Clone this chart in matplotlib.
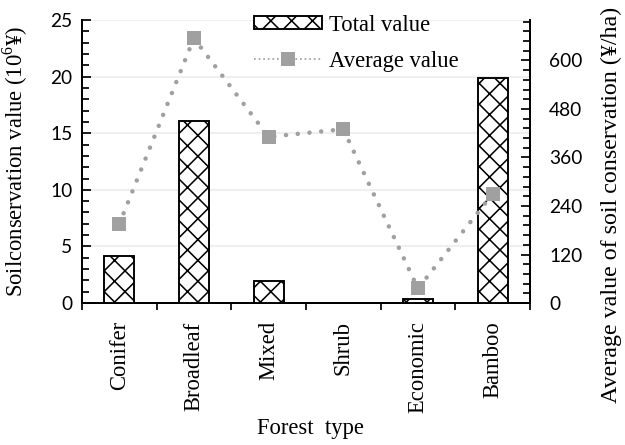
import numpy as np
import matplotlib
matplotlib.use('Agg')
from matplotlib import pyplot as plt
from matplotlib.patches import Patch
from matplotlib.lines import Line2D
from matplotlib.ticker import MultipleLocator, FixedLocator

forest_types = ['Conifer', 'Broadleaf', 'Mixed', 'Shrub', 'Economic', 'Bamboo']
total_value = [4.15, 16.08, 1.94, 0.0, 0.33, 19.85]      # 10^6 yuan
average_value = [195, 655, 411, 430, 36, 270]            # yuan/ha

SERIF = 'Liberation Serif'
SANS = 'Lato'
GREY = '#a0a0a0'

plt.rcParams['mathtext.fontset'] = 'custom'
plt.rcParams['mathtext.rm'] = SERIF
plt.rcParams['hatch.linewidth'] = 0.9

fig = plt.figure(figsize=(5, 3.56), dpi=125)
ax = fig.add_axes([0.131, 0.319, 0.717, 0.636])
x = np.arange(len(forest_types))

ax.bar(x, total_value, width=0.4, color='white', edgecolor='black',
       linewidth=1.1, hatch='xx', zorder=3)
ax.set_xlim(-0.5, len(forest_types) - 0.5)
ax.set_ylim(0, 25)
ax.yaxis.set_major_locator(MultipleLocator(5))
ax.yaxis.set_minor_locator(MultipleLocator(1))
ax.grid(axis='y', color='#efefef', linewidth=1.2, zorder=0)
ax.tick_params(axis='y', which='both', direction='in', width=1.0,
               labelsize=11, pad=5.5)
ax.tick_params(axis='y', which='major', length=5)
ax.tick_params(axis='y', which='minor', length=4)
for lab in ax.get_yticklabels():
    lab.set_fontfamily(SANS)

# category labels at centres, tick marks at boundaries
ax.set_xticks(x)
ax.set_xticklabels(forest_types, rotation=90, fontfamily=SERIF, fontsize=13)
ax.xaxis.set_minor_locator(FixedLocator(np.arange(len(forest_types) + 1) - 0.5))
ax.tick_params(axis='x', which='major', length=0, pad=10.5)
ax.tick_params(axis='x', which='minor', direction='out', length=4, width=1.0)

for s in ['left', 'bottom']:
    ax.spines[s].set_linewidth(1.15)
ax.spines['top'].set_visible(False)
ax.spines['right'].set_visible(False)

ax.set_ylabel('Soilconservation value (10$^{6}$¥)', fontfamily=SERIF, fontsize=13)
ax.yaxis.set_label_coords(-0.116, 0.5)
ax.set_xlabel('Forest  type', fontfamily=SERIF, fontsize=13)
ax.xaxis.set_label_coords(0.509, -0.405)

ax2 = ax.twinx()
ax2.plot(x, average_value, color=GREY, linewidth=2.6, linestyle=(0, (0.01, 2.6)),
         dash_capstyle='round', marker='s', markersize=7.5, markeredgewidth=0,
         zorder=4)
ax2.set_ylim(0, 700)
ax2.yaxis.set_major_locator(MultipleLocator(120))
ax2.yaxis.set_minor_locator(MultipleLocator(24))
ax2.tick_params(axis='y', which='both', direction='in', width=1.0,
                labelsize=11, pad=11)
ax2.tick_params(axis='y', which='major', length=5)
ax2.tick_params(axis='y', which='minor', length=4)
for lab in ax2.get_yticklabels():
    lab.set_fontfamily(SANS)
for s in ['left', 'top', 'bottom']:
    ax2.spines[s].set_visible(False)
ax2.spines['right'].set_linewidth(1.15)
ax2.set_ylabel('Average value of soil conservation (¥/ha)', fontfamily=SERIF,
               fontsize=13.8, rotation=90)
ax2.yaxis.set_label_coords(1.158, 0.346)

handles = [Patch(facecolor='white', edgecolor='black', hatch='xx', linewidth=1.1),
           Line2D([], [], color=GREY, linestyle=':', linewidth=1.0, marker='s',
                  markersize=7.5, markeredgewidth=0)]
leg = ax2.legend(handles, ['Total value', 'Average value'], loc='upper left',
                 bbox_to_anchor=(0.36, 1.058), frameon=False, borderpad=0,
                 handlelength=3.0, handleheight=0.5, handletextpad=0.3,
                 labelspacing=0.65, prop={'family': SERIF, 'size': 13})

fig.savefig('out.png', dpi=125)
